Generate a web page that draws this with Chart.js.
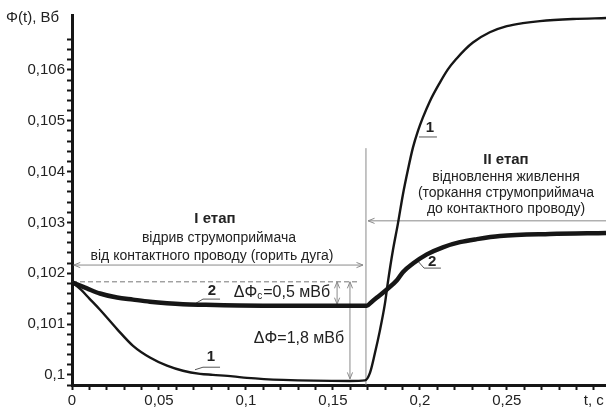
<!DOCTYPE html>
<html>
<head>
<meta charset="utf-8">
<script src="https://cdn.jsdelivr.net/npm/chart.js@4.4.1/dist/chart.umd.min.js"></script>
<style>
    body { margin: 0; background: #fff; }
    #wrap { width: 606px; height: 409px; }
</style>
</head>
<body>
<div id="wrap"><canvas id="chart"></canvas></div>
<script>
// крива 1 (тонка лінія)
const t1 = [0, 0.005, 0.01, 0.0161, 0.0259, 0.0351, 0.0448, 0.0546, 0.0638, 0.0736, 0.081, 0.0925, 0.1006, 0.1213, 0.1598, 0.1684,
    0.1713, 0.1741, 0.177, 0.1799, 0.1816, 0.1845, 0.1874, 0.1902, 0.1931, 0.196, 0.1989, 0.2017, 0.2057, 0.2115, 0.2161,
    0.2213, 0.2259, 0.2305, 0.2402, 0.25, 0.2592, 0.269, 0.2879, 0.307];
const phi1 = [0.10182, 0.10168, 0.1015, 0.10128, 0.1009, 0.10057, 0.10034, 0.10018, 0.10008, 0.10002, 0.1, 0.09997, 0.09994, 0.0999, 0.09988, 0.09989,
    0.10004, 0.10042, 0.10087, 0.1014, 0.10182, 0.10245, 0.10298, 0.10354, 0.10403, 0.10447, 0.1048, 0.10506, 0.10538, 0.10575, 0.10601,
    0.10623, 0.1064, 0.10654, 0.10674, 0.10686, 0.10692, 0.10696, 0.107, 0.10702];

// крива 2 (товста лінія)
const t2 = [0, 0.0086, 0.0161, 0.0259, 0.0351, 0.0448, 0.0546, 0.0638, 0.0736, 0.1098, 0.1695, 0.1724, 0.1753, 0.181, 0.1868,
    0.1902, 0.196, 0.204, 0.2132, 0.223, 0.2328, 0.246, 0.2747, 0.307];
const phi2 = [0.10182, 0.1017, 0.1016, 0.10152, 0.10148, 0.10144, 0.10141, 0.10139, 0.10138, 0.10136, 0.10136, 0.10144, 0.10152, 0.10168, 0.10186,
    0.10202, 0.10219, 0.10237, 0.10251, 0.10261, 0.10267, 0.10273, 0.10277, 0.10279];

const xMajorTicks = [0, 0.05, 0.1, 0.15, 0.2, 0.25];
const yMajorTicks = [0.1, 0.101, 0.102, 0.103, 0.104, 0.105, 0.106];
const xTitle = 't, c';
const yTitle = 'Φ(t), Вб';

// дрібні поділки
const xTickVals = [];
for (let k = 0; k <= 30; k++) xTickVals.push(+(k * 0.01).toFixed(2));
const yTickVals = [];
for (let k = 499; k <= 533; k++) yTickVals.push(+(k * 0.0002).toFixed(4));

function fmt(v) {
    return String(+v.toFixed(4)).replace('.', ',');
}
function isMajor(v, list) {
    return list.some(m => Math.abs(m - v) < 1e-9);
}

const INK = '#161616';
const GREY = '#8a8a8a';
const TXT = '#222';
const FONT = '"Liberation Sans", Arial, sans-serif';

function head(ctx, x, y, ang) {
    const L = 7, a = 0.38;
    ctx.beginPath();
    ctx.moveTo(x - L * Math.cos(ang - a), y - L * Math.sin(ang - a));
    ctx.lineTo(x, y);
    ctx.lineTo(x - L * Math.cos(ang + a), y - L * Math.sin(ang + a));
    ctx.stroke();
}
function arrow(ctx, x1, y1, x2, y2, both) {
    ctx.beginPath();
    ctx.moveTo(x1, y1);
    ctx.lineTo(x2, y2);
    ctx.stroke();
    const ang = Math.atan2(y2 - y1, x2 - x1);
    head(ctx, x2, y2, ang);
    if (both) head(ctx, x1, y1, ang + Math.PI);
}

const notes = {
    id: 'notes',
    beforeDatasetsDraw(chart) {
        const { ctx, scales: { x, y }, chartArea } = chart;
        const X = v => x.getPixelForValue(v);
        const Y = v => y.getPixelForValue(v);
        ctx.save();

        // пунктир рівня Ф0
        ctx.strokeStyle = '#777';
        ctx.lineWidth = 1;
        ctx.setLineDash([5, 3]);
        ctx.beginPath();
        ctx.moveTo(X(0), Y(0.10183));
        ctx.lineTo(X(0.1644), Y(0.10183));
        ctx.stroke();
        ctx.setLineDash([]);

        // межа етапів
        ctx.strokeStyle = GREY;
        ctx.beginPath();
        ctx.moveTo(X(0.169), Y(0.10446));
        ctx.lineTo(X(0.169), chartArea.bottom);
        ctx.stroke();

        // стрілки етапів
        arrow(ctx, X(0.001), Y(0.10216), X(0.1673), Y(0.10216), true);
        arrow(ctx, X(0.307), Y(0.10303), X(0.1702), Y(0.10303), false);

        // стрілки дельт
        arrow(ctx, X(0.1524), Y(0.10183), X(0.1524), Y(0.10139), true);
        arrow(ctx, X(0.1598), Y(0.10183), X(0.1598), Y(0.09992), true);

        // виноски кривих
        ctx.strokeStyle = '#555';
        const leaders = [
            [[0.0713, 0.10141], [0.0753, 0.10149], [0.0851, 0.10149]],
            [[0.0707, 0.1001], [0.0753, 0.10015], [0.0851, 0.10015]],
            [[0.1995, 0.10468], [0.2098, 0.10468]],
            [[0.1983, 0.10226], [0.2024, 0.1021], [0.2121, 0.1021]]
        ];
        leaders.forEach(pts => {
            ctx.beginPath();
            pts.forEach((p, i) => i ? ctx.lineTo(X(p[0]), Y(p[1])) : ctx.moveTo(X(p[0]), Y(p[1])));
            ctx.stroke();
        });

        ctx.fillStyle = TXT;
        ctx.textAlign = 'center';
        ctx.textBaseline = 'middle';

        ctx.font = 'bold 15px ' + FONT;
        ctx.fillText('2', X(0.0805), Y(0.10165));
        ctx.fillText('1', X(0.0799), Y(0.10035));
        ctx.fillText('1', X(0.2058), Y(0.10486));
        ctx.fillText('2', X(0.207), Y(0.10222));

        ctx.font = 'bold 15px ' + FONT;
        ctx.fillText('I етап', X(0.0822), Y(0.10307));
        ctx.fillText('II етап', X(0.2495), Y(0.10423));
        ctx.font = '14px ' + FONT;
        ctx.fillText('відрив струмоприймача', X(0.0845), Y(0.10269));
        ctx.fillText('від контактного проводу (горить дуга)', X(0.0805), Y(0.10234));
        ctx.fillText('відновлення живлення', X(0.2495), Y(0.10389));
        ctx.fillText('(торкання струмоприймача', X(0.2495), Y(0.10358));
        ctx.fillText('до контактного проводу)', X(0.2495), Y(0.10326));
        ctx.font = '16px ' + FONT;
        ctx.fillText('ΔΦ=1,8 мВб', X(0.1305), Y(0.10072));

        // ΔΦc з індексом
        const p1 = 'ΔΦ', p2 = 'c', p3 = '=0,5 мВб';
        ctx.font = '16px ' + FONT;
        const w1 = ctx.measureText(p1).width, w3 = ctx.measureText(p3).width;
        ctx.font = '10px ' + FONT;
        const w2 = ctx.measureText(p2).width + 1;
        let sx = X(0.1207) - (w1 + w2 + w3) / 2;
        const sy = Y(0.10161);
        ctx.textAlign = 'left';
        ctx.font = '16px ' + FONT;
        ctx.fillText(p1, sx, sy);
        ctx.font = '10px ' + FONT;
        ctx.fillText(p2, sx + w1, sy + 3);
        ctx.font = '16px ' + FONT;
        ctx.fillText(p3, sx + w1 + w2, sy);

        // підпис осі Y
        ctx.font = '15px ' + FONT;
        ctx.fillText(yTitle, chartArea.left - 66, chartArea.top + 3);

        ctx.restore();
    }
};

new Chart(document.getElementById('chart'), {
    type: 'line',
    data: {
        datasets: [
            {
                data: t1.map((t, i) => ({ x: t, y: phi1[i] })),
                borderColor: INK,
                borderWidth: 2.4,
                pointRadius: 0,
                cubicInterpolationMode: 'monotone'
            },
            {
                data: t2.map((t, i) => ({ x: t, y: phi2[i] })),
                borderColor: INK,
                borderWidth: 4.5,
                pointRadius: 0,
                cubicInterpolationMode: 'monotone'
            }
        ]
    },
    options: {
        animation: false,
        responsive: true,
        maintainAspectRatio: false,
        layout: { padding: { top: 15, left: 0, right: 0, bottom: 0 } },
        plugins: { legend: { display: false }, tooltip: { enabled: false } },
        scales: {
            x: {
                type: 'linear',
                min: 0,
                max: 0.307,
                afterBuildTicks: s => { s.ticks = xTickVals.map(v => ({ value: v })); },
                afterFit: s => { s.height = 24; },
                border: { display: true, color: INK, width: 3 },
                grid: { drawOnChartArea: false, drawTicks: true, tickLength: 5, tickWidth: 2, tickColor: INK },
                ticks: {
                    autoSkip: false,
                    maxRotation: 0,
                    padding: 2,
                    color: TXT,
                    font: { family: FONT, size: 15 },
                    callback: v => (Math.abs(v - 0.3) < 1e-9 ? xTitle : (isMajor(v, xMajorTicks) ? fmt(v) : ''))
                }
            },
            y: {
                min: 0.0998,
                max: 0.10708,
                afterBuildTicks: s => { s.ticks = yTickVals.map(v => ({ value: v })); },
                afterFit: s => { s.width = 72; },
                border: { display: true, color: INK, width: 3 },
                grid: { drawOnChartArea: false, drawTicks: true, tickLength: 5, tickWidth: 2, tickColor: INK },
                ticks: {
                    autoSkip: false,
                    padding: 2,
                    color: TXT,
                    font: { family: FONT, size: 15 },
                    callback: v => (isMajor(v, yMajorTicks) ? fmt(v) : '')
                }
            }
        }
    },
    plugins: [notes]
});
</script>
</body>
</html>
